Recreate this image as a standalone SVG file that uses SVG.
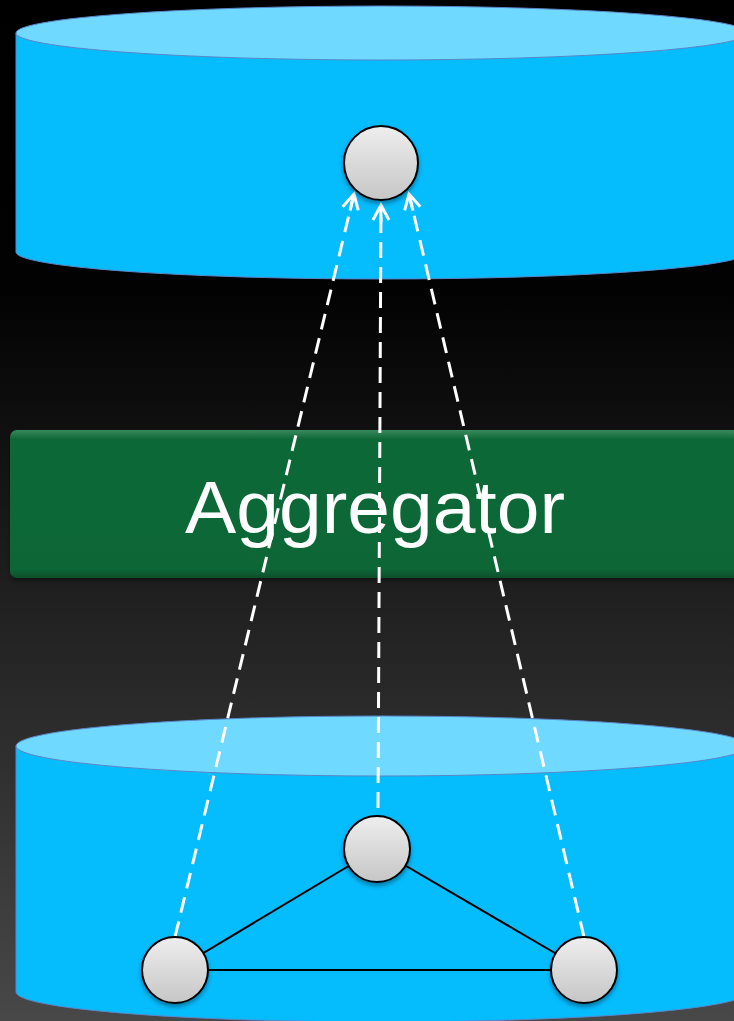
<svg xmlns="http://www.w3.org/2000/svg" width="734" height="1021" viewBox="0 0 734 1021">
<defs>
<linearGradient id="bg" x1="0" y1="0" x2="0" y2="1">
<stop offset="0" stop-color="#000"/>
<stop offset="0.28" stop-color="#020202"/>
<stop offset="1" stop-color="#484848"/>
</linearGradient>
<linearGradient id="node" x1="0" y1="0" x2="0" y2="1">
<stop offset="0" stop-color="#eeeeee"/>
<stop offset="1" stop-color="#c6c6c6"/>
</linearGradient>
<linearGradient id="bar" x1="0" y1="0" x2="0" y2="1">
<stop offset="0" stop-color="#3a8a5e"/>
<stop offset="0.06" stop-color="#106838"/>
<stop offset="0.94" stop-color="#0e6636"/>
<stop offset="1" stop-color="#0a4f2a"/>
</linearGradient>
<marker id="arr" viewBox="0 0 24 24" refX="21" refY="12" markerWidth="24" markerHeight="24" markerUnits="userSpaceOnUse" orient="auto">
<path d="M6 4 L21 12 L6 20 M21 12 L4 12" fill="none" stroke="#fff" stroke-width="3"/>
</marker>
<filter id="sh" x="-30%" y="-30%" width="160%" height="160%">
<feDropShadow dx="0" dy="3" stdDeviation="2" flood-color="#000" flood-opacity="0.35"/>
</filter>
</defs>
<style>
.body{fill:#05bcfd;stroke:#5a86c8;stroke-width:1}
.top{fill:#6fd9ff;stroke:#5a86c8;stroke-width:1}
.nd{fill:url(#node);stroke:#000;stroke-width:2;filter:url(#sh)}
.edge{stroke:#000;stroke-width:2;fill:none}
.dash{stroke:#fff;stroke-width:3;fill:none;stroke-dasharray:16 9}
.lbl{font-family:"Liberation Sans",Arial,sans-serif;font-size:75px;fill:#fff}
</style>
<rect width="734" height="1021" fill="url(#bg)"/>

<g id="top-cylinder">
<path class="body" d="M16 33 L16 252 A366 27 0 0 0 748 252 L748 33 Z"/>
<ellipse class="top" cx="382" cy="33" rx="366" ry="27"/>
</g>

<g id="bottom-cylinder">
<path class="body" d="M16 746 L16 992 A366 30 0 0 0 748 992 L748 746 Z"/>
<ellipse class="top" cx="382" cy="746" rx="366" ry="30"/>
</g>

<g id="aggregator">
<rect x="10" y="430" width="740" height="148" rx="7" fill="url(#bar)" filter="url(#sh)"/>
<text class="lbl" x="375" y="533" text-anchor="middle" textLength="380" lengthAdjust="spacingAndGlyphs">Aggregator</text>
</g>

<g id="edges">
<line class="edge" x1="377" y1="849" x2="175" y2="970"/>
<line class="edge" x1="377" y1="849" x2="584" y2="970"/>
<line class="edge" x1="175" y1="970" x2="584" y2="970"/>
</g>

<g id="connectors">
<line class="dash" x1="175" y1="937" x2="354" y2="194" marker-end="url(#arr)"/>
<line class="dash" x1="378" y1="808" x2="381" y2="205" marker-end="url(#arr)"/>
<line class="dash" x1="584" y1="937" x2="409" y2="194" marker-end="url(#arr)"/>
</g>

<g id="node-top"><circle class="nd" cx="381" cy="163" r="37"/></g>
<g id="node-mid"><circle class="nd" cx="377" cy="849" r="33"/></g>
<g id="node-left"><circle class="nd" cx="175" cy="970" r="33"/></g>
<g id="node-right"><circle class="nd" cx="584" cy="970" r="33"/></g>
</svg>
